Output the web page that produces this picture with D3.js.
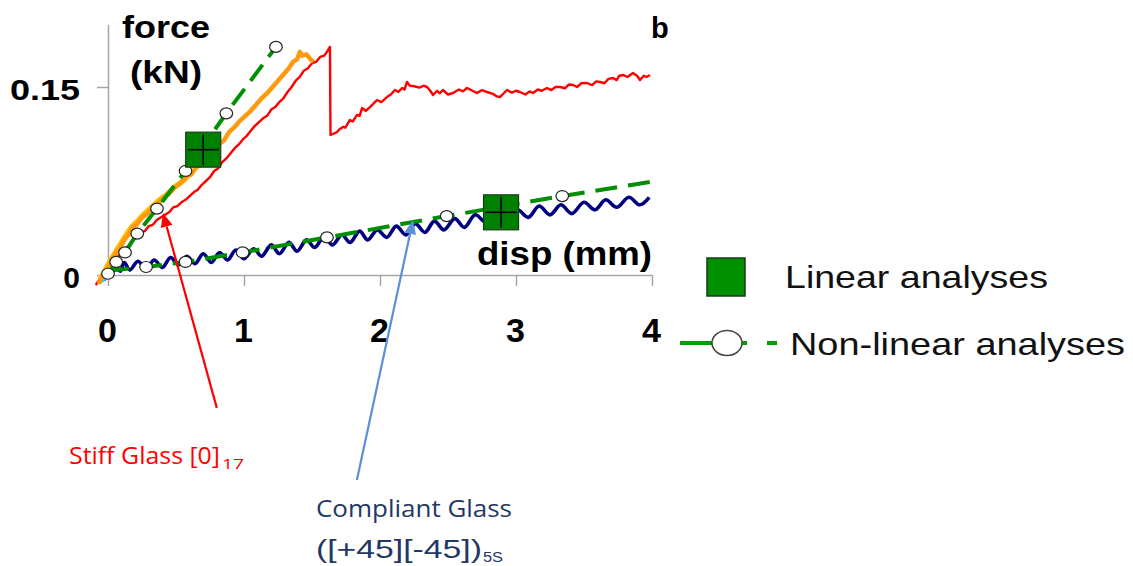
<!DOCTYPE html>
<html>
<head>
<meta charset="utf-8">
<script src="https://cdn.jsdelivr.net/npm/d3@7"></script>
<style>
  html, body { margin: 0; padding: 0; background: #fff; }
  svg { display: block; }
</style>
</head>
<body>
<svg id="chart" width="1133" height="566"></svg>
<script>
// ---------------- DATA ----------------
const xTicks = [0, 1, 2, 3, 4];
const xTickLabels = ["0", "1", "2", "3", "4"];
const yTicks = [0, 0.15];
const yTickLabels = ["0", "0.15"];

// Stiff glass [0]17 experiment (red)
const stiffRed = [
  [-0.09,-0.008],[-0.06,-0.003],[-0.03,0.001],[0.0,0.005],[0.03,0.009],[0.06,0.014],[0.09,0.016],
  [0.12,0.021],[0.15,0.023],[0.18,0.028],[0.21,0.030],[0.24,0.034],[0.27,0.035],[0.30,0.039],
  [0.33,0.040],[0.36,0.044],[0.39,0.046],[0.42,0.048],[0.45,0.050],[0.48,0.054],[0.51,0.055],
  [0.54,0.058],[0.57,0.060],[0.60,0.063],[0.63,0.066],[0.66,0.068],[0.69,0.072],[0.72,0.075],
  [0.75,0.078],[0.78,0.083],[0.81,0.085],[0.84,0.090],[0.87,0.093],[0.90,0.097],[0.93,0.101],
  [0.96,0.104],[0.99,0.108],[1.02,0.111],[1.05,0.115],[1.08,0.119],[1.11,0.122],[1.14,0.125],
  [1.17,0.127],[1.20,0.132],[1.23,0.134],[1.26,0.138],[1.29,0.141],[1.32,0.146],[1.35,0.150],
  [1.38,0.155],[1.41,0.158],[1.44,0.163],[1.47,0.165],[1.50,0.169],[1.53,0.170],[1.56,0.174],
  [1.59,0.175],[1.61,0.178],[1.632,0.182],
  [1.636,0.1117],[1.655,0.1125],[1.684,0.1141],[1.700,0.1160],[1.728,0.1181],[1.745,0.1175],
  [1.779,0.1237],[1.800,0.1225],[1.831,0.1277],[1.850,0.1270],[1.868,0.1332],[1.895,0.1310],
  [1.926,0.1340],[1.950,0.1365],[1.978,0.1396],[2.010,0.1380],[2.051,0.1420],[2.080,0.1440],
  [2.110,0.1476],[2.135,0.1460],[2.162,0.1492],[2.180,0.1480],[2.199,0.1540],[2.220,0.1510],
  [2.243,0.1508],[2.290,0.1495],[2.320,0.1510],[2.346,0.1500],[2.370,0.1470],[2.390,0.1436],
  [2.420,0.1470],[2.440,0.1450],[2.463,0.1476],[2.500,0.1440],[2.537,0.1452],[2.580,0.1480],
  [2.610,0.1465],[2.640,0.1492],[2.680,0.1470],[2.713,0.1452],[2.750,0.1475],[2.787,0.1460],
  [2.830,0.1445],[2.860,0.1425],[2.882,0.1420],[2.910,0.1450],[2.934,0.1476],[2.970,0.1455],
  [3.000,0.1470],[3.029,0.1460],[3.070,0.1440],[3.100,0.1465],[3.125,0.1452],[3.160,0.1480],
  [3.190,0.1470],[3.228,0.1492],[3.260,0.1475],[3.290,0.1500],[3.324,0.1500],[3.360,0.1490],
  [3.390,0.1520],[3.419,0.1516],[3.450,0.1500],[3.480,0.1530],[3.522,0.1532],[3.560,0.1515],
  [3.590,0.1545],[3.618,0.1540],[3.650,0.1530],[3.680,0.1565],[3.713,0.1572],[3.740,0.1555],
  [3.760,0.1590],[3.787,0.1596],[3.820,0.1580],[3.860,0.1612],[3.890,0.1590],[3.912,0.1556],
  [3.940,0.1590],[3.960,0.1580],[3.985,0.1596]
];

// Stiff glass second experiment (yellow + orange)
const stiffYellow = [
  [-0.06,-0.004],[-0.02,0.004],[0.02,0.012],[0.06,0.019],[0.10,0.026],[0.14,0.033],[0.18,0.039],
  [0.22,0.043],[0.26,0.048],[0.30,0.052],[0.34,0.056],[0.38,0.060],[0.42,0.063],[0.46,0.067],
  [0.50,0.071],[0.54,0.074],[0.58,0.078]
];
const stiffOrange = [
  [-0.07,-0.007],[-0.03,0.001],[0.0,0.006],[0.03,0.012],[0.06,0.018],[0.09,0.022],[0.12,0.028],
  [0.15,0.032],[0.18,0.038],[0.21,0.040],[0.25,0.046],[0.29,0.049],[0.33,0.054],[0.37,0.057],
  [0.41,0.062],[0.45,0.065],[0.49,0.070],[0.53,0.073],[0.57,0.078],[0.61,0.080],[0.65,0.086],
  [0.69,0.088],[0.73,0.094],[0.77,0.098],[0.81,0.104],[0.85,0.107],[0.89,0.114],[0.93,0.118],
  [0.97,0.123],[1.01,0.127],[1.05,0.131],[1.09,0.136],[1.13,0.141],[1.17,0.145],[1.21,0.150],
  [1.25,0.155],[1.29,0.160],[1.33,0.165],[1.36,0.170],[1.39,0.172],[1.41,0.178],[1.43,0.175],
  [1.46,0.176],[1.49,0.172],[1.51,0.170]
];
const stiffCyan = [[-0.06,-0.006],[-0.02,-0.003],[0.03,0.002]];

// Compliant glass ([+45][-45])5S experiment (navy)
const compliantBlue = [
  [-0.03,-0.004],[0.0,0.0],[0.03,0.002],[0.06,0.007],[0.09,0.003],[0.12,0.010],[0.16,0.004],
  [0.22,0.011],[0.28,0.005],[0.34,0.012],[0.40,0.006],[0.46,0.014],[0.52,0.008],[0.58,0.015],
  [0.64,0.009],[0.70,0.017],[0.76,0.010],[0.82,0.018],[0.88,0.012],[0.94,0.020],[1.00,0.013],
  [1.07,0.021],[1.13,0.015],[1.20,0.024],[1.26,0.017],[1.33,0.026],[1.39,0.019],[1.46,0.028],
  [1.52,0.022],[1.59,0.031],[1.65,0.024],[1.72,0.032],[1.78,0.026],[1.85,0.035],[1.91,0.028],
  [1.98,0.036],[2.05,0.030],[2.12,0.039],[2.19,0.032],[2.26,0.041],[2.33,0.034],[2.40,0.043],
  [2.47,0.036],[2.55,0.045],[2.62,0.038],[2.70,0.048],[2.78,0.042],[2.85,0.050],[2.93,0.044],
  [3.01,0.052],[3.09,0.046],[3.17,0.055],[3.25,0.048],[3.33,0.056],[3.41,0.049],[3.50,0.058],
  [3.58,0.052],[3.66,0.060],[3.74,0.054],[3.83,0.062],[3.91,0.056],[3.98,0.062]
];

// Non-linear analyses (green dashed with open circles)
const nonlinStiff = [
  [0.0,0.001],[0.06,0.0104],[0.125,0.018],[0.215,0.033],[0.36,0.053],[0.57,0.083],[0.87,0.129],[1.235,0.182]
];
const nonlinCompliant = [
  [0.0,0.001],[0.05,0.004],[0.28,0.0064],[0.57,0.0104],[0.99,0.018],[1.61,0.030],[2.49,0.047],[3.34,0.063],[4.0,0.0745]
];
const nonlinStiffMarkers = nonlinStiff;
const nonlinCompliantMarkers = [[0.28,0.0064],[0.57,0.0104],[0.99,0.018],[1.61,0.030],[2.49,0.047],[3.34,0.063]];

// Linear analyses (green squares)
const linearPoints = [[0.70,0.100],[2.89,0.050]];

// Annotation arrows (data coordinates: [x, y])
const redArrow = { from: [0.80, -0.106], to: [0.404, 0.0495] };
const blueArrow = { from: [1.83, -0.1636], to: [2.243, 0.0439] };

// ---------------- DRAW ----------------
const svg = d3.select("#chart");
const x = d3.scaleLinear().domain([0, 4]).range([108, 652]);
const y = d3.scaleLinear().domain([0, 0.2]).range([275, 24.33]);

const AX = "#a6a6a6";
const FONT = "'Liberation Sans', Arial, sans-serif";
const GREEN = "#008f00";

// Axes
const xAxis = d3.axisBottom(x).tickValues(xTicks).tickFormat((d,i)=>xTickLabels[i])
  .tickSizeInner(11).tickSizeOuter(0).tickPadding(32);
const gx = svg.append("g").attr("transform", `translate(0,${y(0)})`).call(xAxis);
gx.select(".domain").attr("stroke", AX).attr("stroke-width", 1.5);
gx.selectAll(".tick line").attr("stroke", AX).attr("stroke-width", 1.5);
gx.selectAll(".tick text").attr("font-family", FONT).attr("font-weight", "bold")
  .attr("font-size", 34).attr("fill", "#000").attr("dx", -1);

const yAxis = d3.axisLeft(y).tickValues(yTicks).tickFormat((d,i)=>yTickLabels[i])
  .tickSizeInner(11).tickSizeOuter(0).tickPadding(17);
const gy = svg.append("g").attr("transform", `translate(${x(0)},0)`).call(yAxis);
gy.select(".domain").attr("stroke", AX).attr("stroke-width", 1.5);
gy.selectAll(".tick line").attr("stroke", AX).attr("stroke-width", 1.5);
gy.selectAll(".tick text").attr("font-family", FONT).attr("font-weight", "bold")
  .attr("font-size", 30).attr("fill", "#000").attr("dy", "0.42em")
  .each(function(d){ if (d === 0.15) d3.select(this).attr("textLength", 70).attr("lengthAdjust","spacingAndGlyphs"); });

const line = d3.line().x(d => x(d[0])).y(d => y(d[1]));
const smooth = d3.line().x(d => x(d[0])).y(d => y(d[1])).curve(d3.curveCatmullRom.alpha(0.5));

// Compliant experiment (navy, wavy)
svg.append("path").attr("d", smooth(compliantBlue)).attr("fill","none")
  .attr("stroke","#000080").attr("stroke-width",3.6).attr("stroke-linejoin","round");
// Compliant non-linear analysis
svg.append("path").attr("d", line(nonlinCompliant)).attr("fill","none")
  .attr("stroke",GREEN).attr("stroke-width",4).attr("stroke-dasharray","22,11");

// Stiff experiments
svg.append("path").attr("d", line(stiffCyan)).attr("fill","none")
  .attr("stroke","#22c8ff").attr("stroke-width",3);
svg.append("path").attr("d", line(stiffRed)).attr("fill","none")
  .attr("stroke","#ff0000").attr("stroke-width",2.4).attr("stroke-linejoin","round");
svg.append("path").attr("d", line(stiffYellow)).attr("fill","none")
  .attr("stroke","#ffc000").attr("stroke-width",5.5).attr("stroke-linejoin","round");
svg.append("path").attr("d", line(stiffOrange)).attr("fill","none")
  .attr("stroke","#ff9a10").attr("stroke-width",4.5).attr("stroke-linejoin","round");
// Stiff non-linear analysis
svg.append("path").attr("d", line(nonlinStiff)).attr("fill","none")
  .attr("stroke",GREEN).attr("stroke-width",4).attr("stroke-dasharray","20,10");

// Markers
const allMarkers = nonlinStiffMarkers.concat(nonlinCompliantMarkers);
svg.append("g").selectAll("ellipse").data(allMarkers).join("ellipse")
  .attr("cx", d => x(d[0])).attr("cy", d => y(d[1])).attr("rx", 6.3).attr("ry", 5.5)
  .attr("fill","#fff").attr("stroke","#222").attr("stroke-width",1.2);

// Linear analyses squares with cross
const S = 35;
const sq = svg.append("g").selectAll("g").data(linearPoints).join("g")
  .attr("transform", d => `translate(${x(d[0])},${y(d[1])})`);
sq.append("rect").attr("x",-S/2).attr("y",-S/2).attr("width",S).attr("height",S)
  .attr("fill","#008000").attr("stroke","#1a3a1a").attr("stroke-width",1.2);
sq.append("line").attr("x1",-S/2+2).attr("x2",S/2-2).attr("y1",0).attr("y2",0)
  .attr("stroke","#000").attr("stroke-width",1.6);
sq.append("line").attr("y1",-S/2+2).attr("y2",S/2-2).attr("x1",0).attr("x2",0)
  .attr("stroke","#000").attr("stroke-width",1.6);

// Arrows
function arrow(a, color) {
  const x1 = x(a.from[0]), y1 = y(a.from[1]), x2 = x(a.to[0]), y2 = y(a.to[1]);
  const ang = Math.atan2(y2 - y1, x2 - x1);
  const L = 14, Wd = 6;
  const bx = x2 - L * Math.cos(ang), by = y2 - L * Math.sin(ang);
  svg.append("line").attr("x1",x1).attr("y1",y1).attr("x2",bx).attr("y2",by)
    .attr("stroke",color).attr("stroke-width",2.2);
  const p = [
    [x2, y2],
    [bx + Wd * Math.sin(ang), by - Wd * Math.cos(ang)],
    [bx - Wd * Math.sin(ang), by + Wd * Math.cos(ang)]
  ];
  svg.append("polygon").attr("points", p.map(q => q.join(",")).join(" ")).attr("fill", color);
}
arrow(redArrow, "#ff0000");
arrow(blueArrow, "#5b8fd9");

// Text helpers
function txt(str, px, py, opts) {
  const t = svg.append("text").attr("x", px).attr("y", py).text(str)
    .attr("font-family", opts.family || FONT)
    .attr("font-size", opts.size)
    .attr("font-weight", opts.weight || "normal")
    .attr("fill", opts.fill || "#000")
    .attr("text-anchor", opts.anchor || "start");
  if (opts.len) t.attr("textLength", opts.len).attr("lengthAdjust", "spacingAndGlyphs");
  return t;
}

// Axis titles
txt("force", 122, 38, {size: 32, weight: "bold", len: 88});
txt("(kN)", 130, 83, {size: 32, weight: "bold", len: 72});
txt("disp (mm)", 477, 265, {size: 34, weight: "bold", len: 175});
txt("b", 651, 38, {size: 29, weight: "bold"});

// Legend
svg.append("rect").attr("x",707).attr("y",258).attr("width",38).attr("height",38)
  .attr("fill","#008f00").attr("stroke","#1a3a1a").attr("stroke-width",1.5);
txt("Linear analyses", 785, 288, {size: 32, len: 263, fill: "#111"});
svg.append("line").attr("x1",680).attr("x2",777).attr("y1",343).attr("y2",343)
  .attr("stroke","#00a000").attr("stroke-width",4).attr("stroke-dasharray","67,20,10");
svg.append("ellipse").attr("cx",727).attr("cy",343).attr("rx",15).attr("ry",12.5)
  .attr("fill","#fff").attr("stroke","#444").attr("stroke-width",1.5);
txt("Non-linear analyses", 790, 355, {size: 32, len: 335, fill: "#111"});

// Annotation labels
const ANN = "'Open Sans', 'Noto Sans', sans-serif";
txt("Stiff Glass [0]", 69, 464, {size: 24, family: ANN, fill: "#ff0000", len: 151});
txt("17", 222, 469, {size: 15, family: ANN, fill: "#ff0000", len: 22});
txt("Compliant Glass", 316, 517, {size: 24, family: ANN, fill: "#1f3864", len: 196});
txt("([+45][-45])", 316, 558, {size: 26, family: FONT, fill: "#1f3864", len: 166});
txt("5S", 483, 562, {size: 15, family: FONT, fill: "#1f3864", len: 20});
</script>
</body>
</html>
